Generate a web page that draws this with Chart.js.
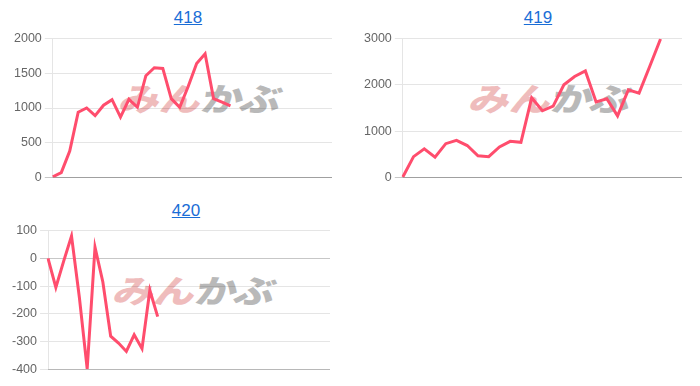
<!DOCTYPE html>
<html lang="ja">
<head>
<meta charset="utf-8">
<title>418 / 419 / 420</title>
<script src="https://cdn.jsdelivr.net/npm/chart.js@4"></script>
<style>
  html, body { margin: 0; padding: 0; background: #fff; }
  body { width: 700px; height: 386px; position: relative; overflow: hidden;
         font-family: "Helvetica Neue", Helvetica, Arial, sans-serif; }
  .title { position: absolute; width: 120px; text-align: center; font-size: 17px; line-height: 20px; }
  .title a { color: #1a6dd6; text-decoration: underline; }
  .mark { position: absolute; font-family: "Noto Sans CJK JP", sans-serif; font-weight: 900;
          font-size: 32px; line-height: 32px; white-space: nowrap;
          transform-origin: left top; transform: skewX(-14deg) scaleX(1.28); z-index: 0; }
  .mark .p { color: #efbcbc; }
  .mark .g { color: #b9b9b9; letter-spacing: -2px; }
  .box { position: absolute; z-index: 1; }
</style>
</head>
<body>
<div class="title" style="left:128px; top:8px;"><a href="#">418</a></div>
<div class="title" style="left:478px; top:8px;"><a href="#">419</a></div>
<div class="title" style="left:126px; top:201px;"><a href="#">420</a></div>

<div class="mark" style="left:125px; top:81px;"><span class="p">みん</span><span class="g">かぶ</span></div>
<div class="mark" style="left:475px; top:81px;"><span class="p">みん</span><span class="g">かぶ</span></div>
<div class="mark" style="left:119px; top:273px;"><span class="p">みん</span><span class="g">かぶ</span></div>

<div class="box" style="left:11px; top:28px; width:321px; height:160px;"><canvas id="c418"></canvas></div>
<div class="box" style="left:361px; top:28px; width:321px; height:160px;"><canvas id="c419"></canvas></div>
<div class="box" style="left:9px; top:220px; width:321px; height:160px;"><canvas id="c420"></canvas></div>

<script>
// x categories (labels are not shown on the chart)
const labels418 = ['1','2','3','4','5','6','7','8','9','10','11','12','13','14','15','16','17',
  '18','19','20','21','22','23','24','25','26','27','28','29','30','31','32','33','34'];
const labels419 = ['1','2','3','4','5','6','7','8','9','10','11','12','13','14',
  '15','16','17','18','19','20','21','22','23','24','25','26','27'];
const labels420 = ['1','2','3','4','5','6','7','8','9','10','11','12','13','14','15','16','17','18','19',
  '20','21','22','23','24','25','26','27','28','29','30','31','32','33','34','35','36','37'];

// series values
const values418 = [10, 70, 380, 940, 1000, 890, 1040, 1120, 870, 1125, 1010,
  1465, 1580, 1570, 1135, 1010, 1310, 1640, 1780, 1135, 1085, 1030];
const values419 = [10, 450, 620, 440, 730, 800, 690, 470, 450, 660, 780, 760,
  1720, 1440, 1540, 2000, 2180, 2300, 1630, 1700, 1330, 1890, 1820, 2400, 2990];
const values420 = [0, -105, -10, 80, -140, -398, 40, -85, -280, -305, -335, -275, -325, -115, -210];

// y axis ranges / steps
const yRange418 = [0, 2000, 500];
const yRange419 = [0, 3000, 1000];
const yRange420 = [-400, 100, 100];

const lineColor = '#ff4d6d';

function makeChart(id, labels, values, range) {
    return new Chart(document.getElementById(id), {
        type: 'line',
        data: {
            labels: labels,
            datasets: [{
                data: values,
                borderColor: lineColor,
                backgroundColor: lineColor,
                borderWidth: 3,
                pointRadius: 0,
                tension: 0,
                fill: false
            }]
        },
        options: {
            responsive: true,
            maintainAspectRatio: false,
            animation: false,
            layout: { padding: 0 },
            plugins: { legend: { display: false }, tooltip: { enabled: false } },
            scales: {
                x: {
                    ticks: { display: false },
                    grid: { display: false, drawTicks: false },
                    border: { display: true, color: 'rgba(0,0,0,0.2)' }
                },
                y: {
                    min: range[0],
                    max: range[1],
                    ticks: {
                        stepSize: range[2],
                        color: '#666',
                        font: { size: 12.5 },
                        callback: v => String(v)   // 2000, not 2,000
                    },
                    grid: {
                        color: ctx => (ctx.tick && ctx.tick.value === 0) ? 'rgba(0,0,0,0.22)' : 'rgba(0,0,0,0.1)'
                    },
                    border: { color: 'rgba(0,0,0,0.1)' }
                }
            }
        }
    });
}

makeChart('c418', labels418, values418, yRange418);
makeChart('c419', labels419, values419, yRange419);
makeChart('c420', labels420, values420, yRange420);
</script>
</body>
</html>
